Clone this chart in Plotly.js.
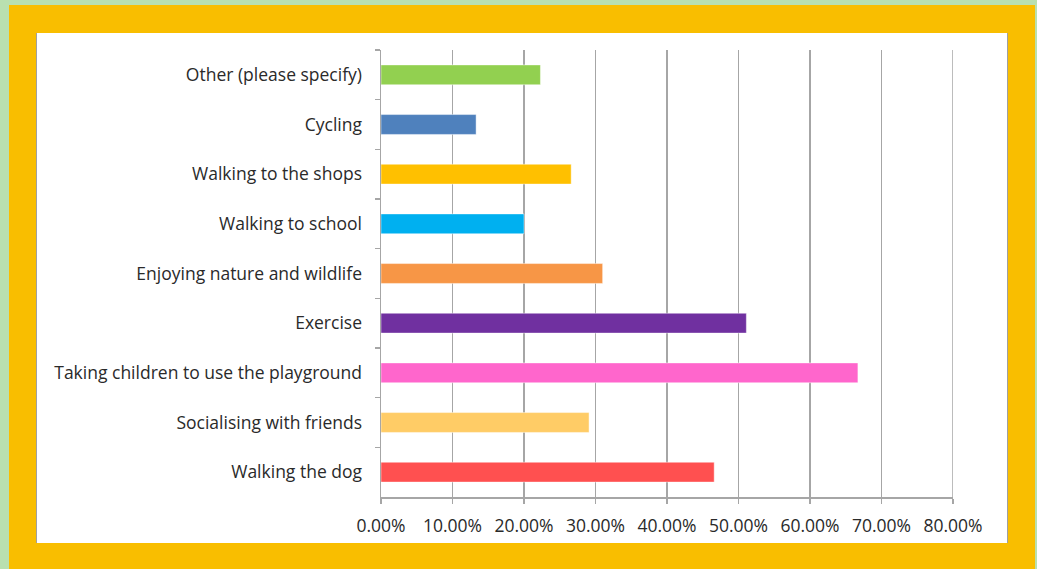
<!DOCTYPE html>
<html>
<head>
<meta charset="utf-8">
<script src="https://cdn.plot.ly/plotly-3.0.1.min.js"></script>
<style>
  html, body { margin: 0; padding: 0; width: 1037px; height: 569px; overflow: hidden; background: #B9E0B0; }
  #yellow { position: absolute; left: 9px; top: 5px; width: 1026px; height: 564px; background: #F9BE00; }
  #white { position: absolute; left: 36px; top: 33px; width: 970px; height: 510px; background: #fff; border: 1px solid #A0A0A0; border-top: none; border-bottom: none; }
  #chart { position: absolute; left: 0; top: 0; width: 1037px; height: 569px; }
</style>
</head>
<body>
<div id="yellow"></div>
<div id="white"></div>
<div id="chart"></div>
<script>
const categories = [
  "Other (please specify)",
  "Cycling",
  "Walking to the shops",
  "Walking to school",
  "Enjoying nature and wildlife",
  "Exercise",
  "Taking children to use the playground",
  "Socialising with friends",
  "Walking the dog"
];
const percentValues = [22.3, 13.3, 26.6, 20.0, 31.0, 51.1, 66.7, 29.1, 46.6];
const barColors = ["#92D050", "#4F81BD", "#FFC000", "#00B0F0", "#F79646", "#7030A0", "#FF66CC", "#FFCC66", "#FF5050"];
const xTickValues = [0, 0.1, 0.2, 0.3, 0.4, 0.5, 0.6, 0.7, 0.8];

const trace = {
  type: "bar",
  orientation: "h",
  y: categories,
  x: percentValues.map(v => v / 100),
  width: 0.4,
  marker: { color: barColors, line: { color: "rgba(255,255,255,0.45)", width: 1 } },
  hoverinfo: "skip"
};

const layout = {
  width: 1037,
  height: 569,
  paper_bgcolor: "rgba(0,0,0,0)",
  plot_bgcolor: "rgba(0,0,0,0)",
  margin: { l: 381, r: 84, t: 50, b: 72, pad: 0 },
  font: { family: "'Open Sans', Lato, sans-serif", size: 17.5, color: "#2a2a2a" },
  showlegend: false,
  xaxis: {
    range: [0, 0.8],
    tickvals: xTickValues,
    tickformat: ".2%",
    showgrid: true,
    gridcolor: "#A6A6A6",
    gridwidth: 1.5,
    zeroline: false,
    showline: true,
    linecolor: "#A6A6A6",
    linewidth: 1.5,
    ticks: "outside",
    ticklen: 5,
    tickcolor: "#A6A6A6",
    tickwidth: 1.5,
    ticklabelstandoff: 7,
    fixedrange: true
  },
  yaxis: {
    type: "category",
    autorange: "reversed",
    showgrid: false,
    zeroline: false,
    showline: true,
    linecolor: "#A6A6A6",
    linewidth: 1.5,
    ticks: "outside",
    tickson: "boundaries",
    ticklen: 5,
    tickcolor: "#A6A6A6",
    tickwidth: 1.5,
    ticklabelstandoff: 14,
    fixedrange: true
  },
  shapes: [{
    type: "line", xref: "x", yref: "paper",
    x0: xTickValues[xTickValues.length - 1], x1: xTickValues[xTickValues.length - 1],
    y0: 0, y1: 1,
    line: { color: "#A6A6A6", width: 1.5 }
  }],
  bargap: 0.6
};

Plotly.newPlot("chart", [trace], layout, { displayModeBar: false, staticPlot: true });
</script>
</body>
</html>
